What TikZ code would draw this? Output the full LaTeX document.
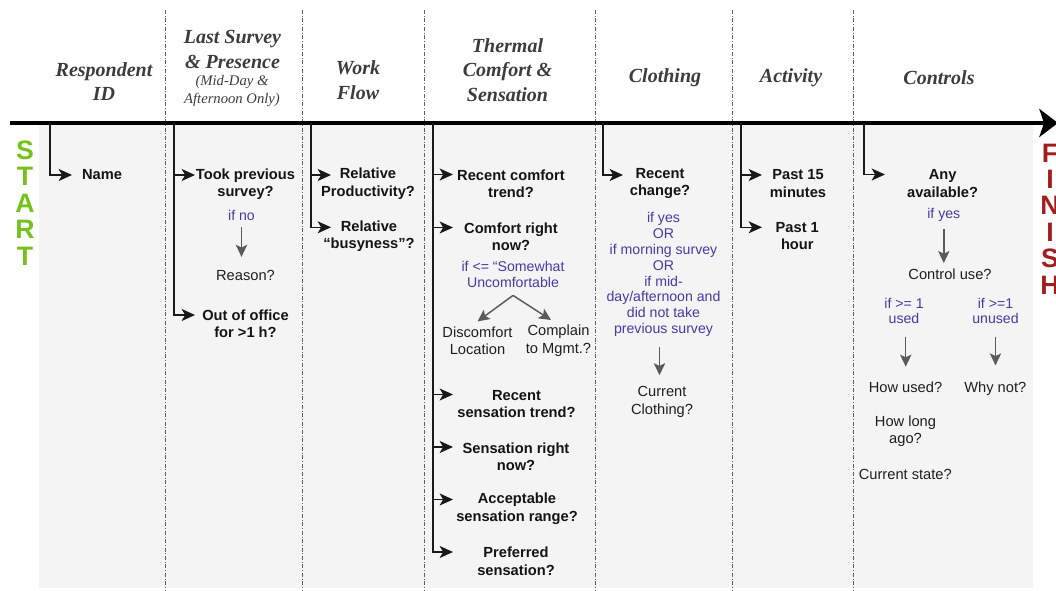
\documentclass[tikz,border=0pt]{standalone}
\usepackage{fontspec}
\setmainfont{Liberation Serif}
\setsansfont{Liberation Sans}
\usetikzlibrary{arrows.meta}
\definecolor{bgray}{HTML}{F4F4F4}
\definecolor{hdr}{HTML}{3C3C3C}
\definecolor{condblue}{RGB}{72,58,165}
\definecolor{startgreen}{HTML}{74C21A}
\definecolor{finred}{HTML}{A21E1E}
\definecolor{sepgray}{HTML}{606060}
\definecolor{arrgray}{HTML}{5A5A5A}
\begin{document}
\begin{tikzpicture}[x=0.75pt,y=-0.75pt,
 sepline/.style={draw=sepgray,line width=0.7pt,dash pattern=on 3pt off 1.3pt on 0.7pt off 1.3pt},
 trunk/.style={draw=black!90,line width=1.1pt},
 branch/.style={trunk,-{Stealth[length=10pt,width=9pt,inset=2.6pt]}},
 garrow/.style={draw=arrgray,line width=1.1pt,-{Stealth[length=9pt,width=8.5pt,inset=2pt]}},
 q/.style={font=\sffamily\fontsize{11}{13.1}\selectfont\bfseries,align=center,inner sep=0pt,text=black!92},
 ans/.style={font=\sffamily\fontsize{11}{13.1}\selectfont,align=center,inner sep=0pt,text=black!88},
 cond/.style={font=\sffamily\fontsize{10.6}{11.9}\selectfont,align=center,inner sep=0pt,text=condblue},
 head/.style={font=\fontsize{15}{18.5}\selectfont\bfseries\itshape,align=center,inner sep=0pt,text=hdr},
 subhead/.style={font=\fontsize{11}{13.5}\selectfont\itshape,align=center,inner sep=0pt,text=hdr},
 bigletters/.style={font=\sffamily\fontsize{20}{19.8}\selectfont\bfseries,align=center,inner sep=0pt}
]
\useasboundingbox (0,0) rectangle (1056,591);
\fill[bgray] (39,123) rectangle (1033,588);

% column separators
\foreach \x in {165,302,424,595,732,853} \draw[sepline] (\x,10) -- (\x,591);

% timeline
\coordinate (tlstart) at (10,123);
\coordinate (tlend) at (1058,123);
\draw[line width=3pt,-{Stealth[length=14pt,width=21pt,inset=3.5pt]}] (tlstart) -- (tlend);

% START / FINISH
\node[bigletters,text=startgreen] (start) at (25,203) {S\\T\\A\\R\\T};
\node[bigletters,text=finred] (finish) at (1050,219) {F\\I\\N\\I\\S\\H};

% headers
\node[head] (h1) at (104,81.5) {Respondent\\ID};
\node[head] (h2) at (232.5,49.5) {Last Survey\\\& Presence};
\node[subhead] (h2s) at (232,91) {(Mid-Day \&\\Afternoon Only)};
\node[head] (h3) at (358,80) {Work\\Flow};
\node[head] (h4) at (507.5,70) {Thermal\\Comfort \&\\Sensation};
\node[head] (h5) at (665,78) {Clothing};
\node[head] (h6) at (791,78) {Activity};
\node[head] (h7) at (939,78) {Controls};

% column 1
\coordinate (t1) at (50,123);
\coordinate (e1) at (72,175);
\draw[branch] (t1) |- (e1);
\node[q] (name) at (102,175) {Name};

% column 2
\coordinate (t2) at (174,123);
\coordinate (e2a) at (195,175);
\coordinate (e2b) at (195,315);
\draw[branch] (t2) |- (e2a);
\draw[branch] (t2) |- (e2b);
\node[q] (took) at (245.5,184) {Took previous\\survey?};
\node[cond] (ifno) at (241.5,215.7) {if no};
\node[ans] (reason) at (245.5,275) {Reason?};
\node[q] (out) at (245.5,323.5) {Out of office\\for >1 h?};
\draw[garrow,shorten <=4.7pt,shorten >=9.5pt] (ifno.south) -- (ifno.south |- reason.north);

% column 3
\coordinate (t3) at (311,123);
\coordinate (e3a) at (331,175);
\coordinate (e3b) at (331,227.3);
\draw[branch] (t3) |- (e3a);
\draw[branch] (t3) |- (e3b);
\node[q] (prod) at (368,183.8) {Relative\\Productivity?};
\node[q] (busy) at (369,236.2) {Relative\\“busyness”?};

% column 4
\coordinate (t4) at (433,123);
\coordinate (e4a) at (453,174.5);
\coordinate (e4b) at (453,227.5);
\coordinate (e4c) at (453,394.5);
\coordinate (e4d) at (453,447);
\coordinate (e4e) at (453,499.5);
\coordinate (e4f) at (453,552);
\foreach \e in {e4a,e4b,e4c,e4d,e4e,e4f} \draw[branch] (t4) |- (\e);
\node[q] (rct) at (511,183.5) {Recent comfort\\trend?};
\node[q] (crn) at (511,236.5) {Comfort right\\now?};
\node[cond] (unc) at (513,274.7) {if <= “Somewhat\\Uncomfortable};
\node[ans] (disc) at (477.5,340.5) {Discomfort\\Location};
\node[ans] (comp) at (558.5,340.5) {Complain\\to Mgmt.?};
\coordinate (split) at ([yshift=-5.5pt]unc.south);
\draw[garrow] (split) -- ([yshift=3.5pt]disc.north);
\draw[garrow] (split) -- ([xshift=-5.6pt,yshift=3.5pt]comp.north);
\node[q] (rst) at (516.5,403.8) {Recent\\sensation trend?};
\node[q] (srn) at (516,456.8) {Sensation right\\now?};
\node[q] (asr) at (517,508.8) {Acceptable\\sensation range?};
\node[q] (pref) at (516,561.3) {Preferred\\sensation?};

% column 5
\coordinate (t5) at (603,123);
\coordinate (e5) at (623,175);
\draw[branch] (t5) |- (e5);
\node[q] (rch) at (660,183.5) {Recent\\change?};
\node[cond] (c5) at (663.5,274.5) {if yes\\OR\\if morning survey\\OR\\if mid-\\day/afternoon and\\did not take\\previous survey};
\node[ans] (cur) at (662,401.8) {Current\\Clothing?};
\draw[garrow,shorten <=7.6pt,shorten >=8.2pt] ([xshift=-3pt]c5.south) -- ([xshift=-3pt]c5.south |- cur.north);

% column 6
\coordinate (t6) at (741,123);
\coordinate (e6a) at (762,175);
\coordinate (e6b) at (762,227.3);
\draw[branch] (t6) |- (e6a);
\draw[branch] (t6) |- (e6b);
\node[q] (p15) at (798,183.5) {Past 15\\minutes};
\node[q] (p1) at (797.3,236.2) {Past 1\\hour};

% column 7
\coordinate (t7) at (864,123);
\coordinate (e7) at (885,174.5);
\draw[branch] (t7) |- (e7);
\node[q] (any) at (942.6,183.5) {Any\\available?};
\node[cond] (ify7) at (943.8,215) {if yes};
\node[ans] (ctrl) at (950,274.3) {Control use?};
\draw[garrow,shorten <=5.5pt,shorten >=4.2pt] (ify7.south) -- (ify7.south |- ctrl.north);
\node[cond] (used) at (904,310.9) {if >= 1\\used};
\node[cond] (unused) at (995.5,310.9) {if >=1\\unused};
\node[ans] (howu) at (905.5,387.5) {How used?};
\node[ans] (why) at (995.3,388.5) {Why not?};
\draw[garrow,shorten <=9.5pt,shorten >=11.4pt] ([xshift=1.3pt]used.south) -- ([xshift=1.3pt]used.south |- howu.north);
\draw[garrow,shorten <=9.5pt,shorten >=12pt] (unused.south) -- (unused.south |- why.north);
\node[ans] (howl) at (905.5,431.2) {How long\\ago?};
\node[ans] (cst) at (905.3,474.3) {Current state?};
\end{tikzpicture}
\end{document}
